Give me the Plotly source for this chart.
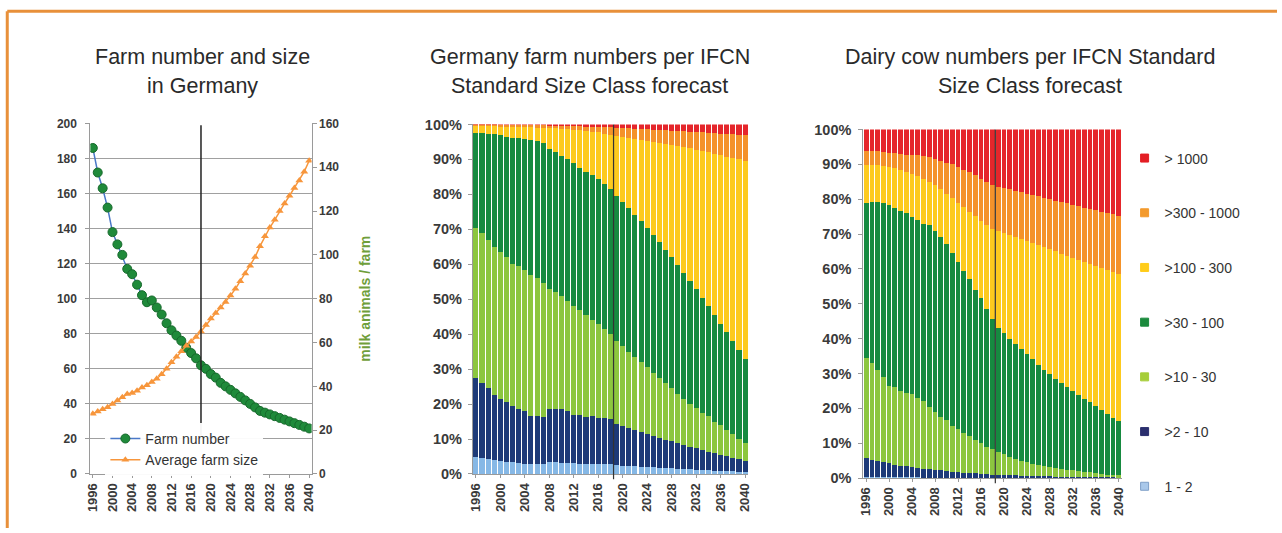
import plotly.graph_objects as go
import numpy as np

years = list(range(1996, 2041))
tick_years = list(range(1996, 2041, 4))

# ---- Left chart: farm number (1000 farms) and average farm size ----
farm_number = [186, 172, 163, 152, 138, 131, 125, 117, 114, 108, 102, 98, 99, 95, 91, 86,
               82, 79, 76, 72, 69, 66, 62, 60, 57, 55, 52, 50, 48, 46, 44, 42, 40, 38,
               36, 35, 34, 33, 32, 31, 30, 29, 28, 27, 26]
avg_farm_size = [27.5, 28.5, 29.5, 30.5, 32, 33.5, 35, 36.5, 37, 38, 39.5, 40.5, 42, 43.5,
                 45.5, 48, 51, 53.5, 56, 58.5, 60.5, 62.5, 65, 68, 71, 73.5, 76, 78.5, 81.5,
                 84.5, 88, 91.5, 95, 99, 104, 108.5, 112.5, 116, 120, 123.5, 127, 130.5,
                 134, 138, 143]

# ---- Middle chart: farm numbers share, cumulative tops (%) per size class ----
mid_top_1_2 = [5.0, 4.5, 4.2, 3.9, 3.7, 3.5, 3.4, 3.2, 3.0, 2.9, 2.8, 2.8, 3.3, 3.3, 3.2, 3.2,
               3.1, 3.0, 3.0, 3.0, 2.9, 2.9, 2.8, 2.5, 2.4, 2.3, 2.2, 2.1, 2.0, 1.9, 1.8, 1.7,
               1.6, 1.5, 1.4, 1.3, 1.2, 1.1, 1.0, 0.95, 0.9, 0.85, 0.8, 0.7, 0.6]
mid_top_2_10 = [27.5, 26.0, 24.5, 22.5, 21.5, 20.5, 19.5, 18.5, 18.0, 16.5, 16.5, 16.3, 18.5,
                18.7, 18.5, 18.0, 17.0, 16.8, 16.3, 16.5, 16.0, 16.0, 15.8, 14.3, 13.8, 13.2,
                12.6, 12.0, 11.5, 10.9, 10.4, 9.8, 9.3, 8.8, 8.3, 7.8, 7.3, 6.9, 6.4, 6.0,
                5.5, 5.1, 4.7, 4.3, 3.8]
mid_top_10_30 = [70.5, 69, 67, 65, 63.5, 62, 60, 59.5, 58.5, 57, 56, 54.5, 53, 52, 51, 49.5,
                 48, 47, 45.5, 44, 43, 41.5, 40, 38, 36.5, 35, 33.5, 32, 30.5, 29, 27.5, 26,
                 24.5, 23, 21.5, 20, 19, 17.5, 16.5, 15, 14, 12.5, 11.5, 10, 9]
mid_top_30_100 = [97.5, 97.5, 97.3, 97.2, 97.0, 96.5, 96.2, 96.0, 95.8, 95.5, 95.2, 94.8,
                  93.0, 92.0, 91.0, 90.0, 89.0, 87.5, 86.5, 85.5, 84.3, 83.0, 81.5, 79.5,
                  77.8, 76.0, 74.2, 72.3, 70.4, 68.4, 66.3, 64.2, 62.0, 59.8, 57.5, 55.2,
                  52.8, 50.4, 48.0, 45.5, 43.0, 40.5, 38.0, 35.5, 33.0]
mid_top_100_300 = [99.5, 99.5, 99.5, 99.5, 99.4, 99.4, 99.3, 99.3, 99.2, 99.2, 99.1, 99.0,
                   99.0, 98.9, 98.8, 98.7, 98.5, 98.3, 98.1, 97.9, 97.7, 97.4, 97.1, 96.6,
                   96.4, 96.2, 95.9, 95.6, 95.3, 95.0, 94.7, 94.4, 94.1, 93.8, 93.5, 93.2,
                   92.8, 92.4, 92.0, 91.6, 91.2, 90.8, 90.4, 90.0, 89.6]
mid_top_300_1000 = [99.9, 99.9, 99.9, 99.9, 99.9, 99.9, 99.8, 99.8, 99.8, 99.8, 99.8, 99.8,
                    99.7, 99.7, 99.6, 99.6, 99.5, 99.5, 99.4, 99.4, 99.3, 99.3, 99.2, 99.1,
                    99.0, 98.9, 98.8, 98.7, 98.6, 98.5, 98.4, 98.3, 98.2, 98.1, 98.0, 97.9,
                    97.8, 97.7, 97.6, 97.5, 97.4, 97.3, 97.2, 97.1, 97.0]

# ---- Right chart: dairy cow numbers share, cumulative tops (%) ----
cow_top_1_2 = [0.2, 0.2, 0.2, 0.2, 0.2, 0.2, 0.15, 0.15, 0.15, 0.15, 0.1, 0.1, 0.1, 0.1, 0.1,
               0.1, 0.1, 0.1, 0.1, 0.1, 0.1, 0.1, 0.1, 0.05, 0.05, 0.05, 0.05, 0.05, 0.05,
               0.05, 0.05, 0.05, 0.05, 0.05, 0.05, 0.05, 0.05, 0.05, 0.05, 0.05, 0.05,
               0.05, 0.05, 0.05, 0.05]
cow_top_2_10 = [5.8, 5.3, 4.9, 4.5, 4.2, 3.8, 3.5, 3.3, 3.1, 2.9, 2.7, 2.5, 2.3, 2.2, 2.0, 1.8,
                1.6, 1.5, 1.4, 1.3, 1.2, 1.1, 1.0, 0.9, 0.85, 0.8, 0.75, 0.7, 0.65, 0.6,
                0.55, 0.5, 0.45, 0.4, 0.38, 0.35, 0.32, 0.3, 0.27, 0.25, 0.22, 0.2, 0.18,
                0.15, 0.12]
cow_top_10_30 = [34.5, 33.0, 31.0, 29.0, 26.5, 26.0, 25.0, 24.5, 24.0, 23.0, 22.0, 20.5,
                 19.0, 17.5, 16.5, 15.0, 14.0, 13.0, 12.0, 11.0, 10.0, 9.0, 8.2, 7.5, 6.8,
                 6.1, 5.5, 5.0, 4.5, 4.1, 3.7, 3.4, 3.1, 2.8, 2.6, 2.4, 2.2, 2.0, 1.8, 1.6,
                 1.4, 1.2, 1.0, 0.9, 0.8]
cow_top_30_100 = [79.0, 79.3, 79.3, 79.0, 78.3, 77.5, 76.5, 76.0, 75.0, 74.0, 73.0, 72.5,
                  71.0, 69.0, 67.0, 64.5, 62.0, 59.5, 57.0, 54.0, 51.5, 48.5, 45.5, 43.0,
                  41.5, 40.0, 38.5, 37.0, 35.5, 34.0, 32.5, 31.0, 29.8, 28.5, 27.3, 26.1,
                  25.0, 23.9, 22.8, 21.7, 20.6, 19.5, 18.4, 17.3, 16.3]
cow_top_100_300 = [89.7, 89.8, 89.8, 89.6, 89.2, 88.8, 88.3, 87.8, 87.2, 86.6, 85.9, 85.0,
                   84.0, 82.8, 81.6, 80.3, 79.0, 77.7, 76.4, 75.1, 73.8, 72.6, 71.5, 71.0,
                   70.4, 69.8, 69.2, 68.6, 68.0, 67.4, 66.8, 66.2, 65.6, 65.0, 64.4, 63.8,
                   63.2, 62.6, 62.0, 61.4, 60.8, 60.2, 59.6, 59.0, 58.5]
cow_top_300_1000 = [93.8, 93.8, 93.7, 93.5, 93.3, 93.1, 92.9, 92.8, 92.7, 92.6, 92.4, 92.0,
                    91.5, 91.0, 90.5, 90.0, 89.3, 88.5, 87.7, 86.8, 85.9, 85.0, 84.2, 83.6,
                    83.2, 82.8, 82.4, 82.0, 81.6, 81.2, 80.8, 80.4, 80.0, 79.6, 79.2, 78.8,
                    78.4, 78.0, 77.6, 77.2, 76.8, 76.4, 76.0, 75.6, 75.2]

classes = ["1 - 2", ">2 - 10", ">10 - 30", ">30 - 100", ">100 - 300", ">300 - 1000", "> 1000"]
class_colors = ["#86b8e6", "#1d3a78", "#8cc63f", "#168a40", "#fdca1e", "#f4922a", "#e5262b"]
legend_colors = ["#a9c8ea", "#2b2f6e", "#a6ce39", "#1b8a3d", "#ffcc1a", "#f39a2d", "#e31e24"]

forecast_start_left = 2018
forecast_start_bars = 2018.5

# Mapping from reference-picture pixels to figure pixels (calibrated against the renderer)
SX, SY = 0.991, 0.9686
OX, OY = 5.8, 8.0
W, H = 1282, 536
def fxp(X):
    return X / SX - OX
def fyp(Y):
    return Y / SY - OY
def fx(X):
    return fxp(X) / W
def fy(Y):
    return 1 - fyp(Y) / H
def px_x(a, b):
    return [fx(a), fx(b)]
def px_y(top, bottom):
    return [fy(bottom), fy(top)]

FONT = "Liberation Sans, Arial, sans-serif"
TXT = "#333333"
AXC = "#9a9a9a"
TICKC = "#3a3a3a"

def shares(tops):
    arr = np.array([np.zeros(len(years))] + [np.array(t, float) for t in tops] +
                   [np.full(len(years), 100.0)])
    return np.diff(arr, axis=0)

mid_shares = shares([mid_top_1_2, mid_top_2_10, mid_top_10_30, mid_top_30_100,
                     mid_top_100_300, mid_top_300_1000])
cow_shares = shares([cow_top_1_2, cow_top_2_10, cow_top_10_30, cow_top_30_100,
                     cow_top_100_300, cow_top_300_1000])

fig = go.Figure()

# Left chart
fig.add_trace(go.Scatter(
    x=years, y=farm_number, name="Farm number", mode="lines+markers",
    line=dict(color="#4a78c8", width=1.5),
    marker=dict(symbol="circle", size=9, color="#1f8a3a", line=dict(color="#17692c", width=1)),
    xaxis="x", yaxis="y", legend="legend"))
fig.add_trace(go.Scatter(
    x=years, y=avg_farm_size, name="Average farm size", mode="lines+markers",
    line=dict(color="#f7963c", width=1.5),
    marker=dict(symbol="triangle-up", size=7, color="#f7963c"),
    xaxis="x", yaxis="y2", legend="legend"))

# Middle chart bars
for i, cls in enumerate(classes):
    fig.add_trace(go.Bar(x=years, y=mid_shares[i], name=cls, marker_color=class_colors[i],
                         marker_line_width=0, xaxis="x3", yaxis="y3", showlegend=False))
# Right chart bars
for i, cls in enumerate(classes):
    fig.add_trace(go.Bar(x=years, y=cow_shares[i], name=cls, marker_color=class_colors[i],
                         marker_line_width=0, xaxis="x4", yaxis="y4", showlegend=False))
# Legend entries for size classes (top to bottom)
for i in reversed(range(len(classes))):
    fig.add_trace(go.Scatter(x=[None], y=[None], mode="markers", name=classes[i],
                             marker=dict(symbol="square", size=8, color=legend_colors[i],
                                         line=dict(color="#7f9fc8" if i == 0 else legend_colors[i], width=1)),
                             xaxis="x4", yaxis="y4", legend="legend2", legendgroup=classes[i]))

tickfont = dict(family=FONT, size=13, color=TICKC, weight="bold")
xcommon = dict(tickmode="array", tickvals=tick_years, ticktext=[str(y) for y in tick_years],
               tickangle=-90, tickfont=tickfont, showgrid=False, showline=True,
               linecolor=AXC, linewidth=1, ticks="outside", ticklen=3, tickcolor=AXC,
               range=[1995.5, 2040.5], zeroline=False, fixedrange=True)

fig.update_layout(
    width=W, height=H, margin=dict(l=0, r=0, t=0, b=0),
    paper_bgcolor="white", plot_bgcolor="white",
    barmode="stack", bargap=0.17,
    font=dict(family=FONT, color=TXT),
    xaxis=dict(domain=px_x(91, 312), anchor="y", **xcommon),
    yaxis=dict(domain=px_y(123, 473), anchor="x", range=[0, 200], dtick=20,
               showgrid=True, gridcolor="#a0a0a0", gridwidth=1, showline=True,
               linecolor=AXC, ticks="outside", ticklen=4, tickcolor=AXC, ticklabelstandoff=6,
               tickfont=dict(family=FONT, size=12, color=TICKC, weight="bold"),
               zeroline=False),
    yaxis2=dict(overlaying="y", side="right", anchor="x", range=[0, 160], dtick=20,
                showgrid=False, showline=True, linecolor=AXC, ticks="outside", ticklen=4,
                tickcolor=AXC, tickfont=dict(family=FONT, size=12, color=TICKC, weight="bold"),
                title=dict(text="milk animals / farm", standoff=21,
                           font=dict(family=FONT, size=14, color="#6f9e3a", weight="bold")),
                zeroline=False),
    xaxis3=dict(domain=px_x(473, 748), anchor="y3", **xcommon),
    yaxis3=dict(domain=px_y(124, 473), anchor="x3", range=[0, 100], dtick=10,
                ticksuffix="%", showgrid=False, showline=True, linecolor=AXC,
                ticks="outside", ticklen=4, tickcolor=AXC, ticklabelstandoff=3,
                tickfont=dict(family=FONT, size=14.5, color=TICKC, weight="bold"),
                zeroline=False),
    xaxis4=dict(domain=px_x(863, 1121), anchor="y4", **xcommon),
    yaxis4=dict(domain=px_y(129, 477), anchor="x4", range=[0, 100], dtick=10,
                ticksuffix="%", showgrid=False, showline=True, linecolor=AXC,
                ticks="outside", ticklen=4, tickcolor=AXC, ticklabelstandoff=4,
                tickfont=dict(family=FONT, size=14.5, color=TICKC, weight="bold"),
                zeroline=False),
    legend=dict(x=fx(106), y=fy(422), xanchor="left", yanchor="top", traceorder="normal",
                bgcolor="rgba(255,255,255,0.95)", font=dict(family=FONT, size=14, color="#333"),
                itemwidth=30, tracegroupgap=0),
    legend2=dict(x=fx(1124), y=fy(142), xanchor="left", yanchor="top",
                 bgcolor="rgba(0,0,0,0)", font=dict(family=FONT, size=14, color="#333"),
                 itemwidth=30, tracegroupgap=33.5),
    showlegend=True,
)

# Forecast marker lines
fig.add_shape(type="line", xref="x", yref="y", x0=forecast_start_left, x1=forecast_start_left,
              y0=22, y1=199, line=dict(color="#222", width=1.5))
fig.add_shape(type="line", xref="x3", yref="y3 domain", x0=forecast_start_bars,
              x1=forecast_start_bars, y0=-0.015, y1=1, line=dict(color="#333", width=1.2))
fig.add_shape(type="line", xref="x4", yref="y4 domain", x0=forecast_start_bars,
              x1=forecast_start_bars, y0=-0.015, y1=1, line=dict(color="#333", width=1.2))

# Orange frame
fig.add_shape(type="line", xref="paper", yref="paper", x0=fx(8), x1=1, y0=fy(11),
              y1=fy(11), line=dict(color="#e8903a", width=3))
fig.add_shape(type="line", xref="paper", yref="paper", x0=fx(8), x1=fx(8), y0=0,
              y1=fy(11), line=dict(color="#e8903a", width=3))

titles = [
    (203, ["Farm number and size", "in Germany"]),
    (590, ["Germany farm numbers per IFCN", "Standard Size Class forecast"]),
    (1030, ["Dairy cow numbers per IFCN Standard", "Size Class forecast"]),
]
for cx, lines in titles:
    for j, t in enumerate(lines):
        fig.add_annotation(x=fx(cx), y=fy(57 + 29 * j), xref="paper", yref="paper",
                           text=t, showarrow=False, xanchor="center", yanchor="middle",
                           font=dict(family=FONT, size=21.5, color="#2a2a2a"))

fig.write_html("out.html", config={"displayModeBar": False},
               post_script="document.body.style.margin='0px';")
